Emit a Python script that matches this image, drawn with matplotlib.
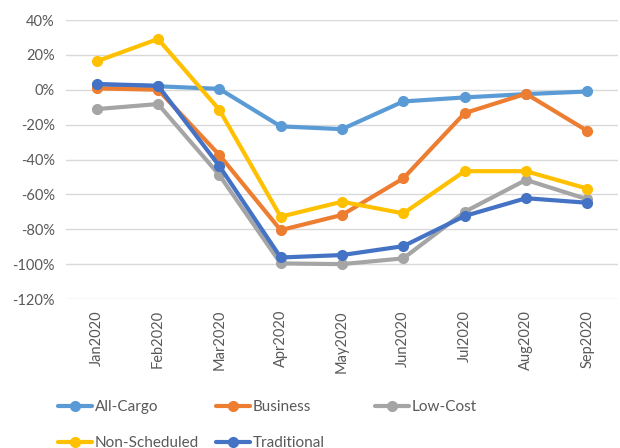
import matplotlib
matplotlib.use("Agg")
import matplotlib.pyplot as plt
from matplotlib.ticker import FuncFormatter

plt.rcParams['font.family'] = ['Lato', 'DejaVu Sans']

# data (percent change)
months = ['Jan2020', 'Feb2020', 'Mar2020', 'Apr2020', 'May2020',
          'Jun2020', 'Jul2020', 'Aug2020', 'Sep2020']
all_cargo = [3.0, 2.0, 0.5, -21.0, -22.6, -6.7, -4.4, -2.5, -1.0]
business = [0.8, 0.0, -37.4, -80.5, -71.8, -50.8, -13.4, -2.3, -23.6]
low_cost = [-11.1, -8.2, -48.9, -99.6, -100.0, -96.7, -70.0, -51.7, -62.8]
non_scheduled = [16.3, 29.1, -11.5, -72.8, -64.2, -70.9, -46.7, -46.7, -56.7]
traditional = [3.3, 2.3, -43.7, -96.2, -94.8, -89.7, -72.4, -62.2, -64.8]

series = [
    ('All-Cargo', all_cargo, '#5B9BD5'),
    ('Business', business, '#ED7D31'),
    ('Low-Cost', low_cost, '#A5A5A5'),
    ('Non-Scheduled', non_scheduled, '#FFC000'),
    ('Traditional', traditional, '#4472C4'),
]

fig = plt.figure(figsize=(6.2, 4.48), dpi=100)
ax = fig.add_axes([66 / 620, 149 / 448, 552 / 620, 279 / 448])

lines = {}
x = list(range(len(months)))
for name, vals, color in series:
    ln, = ax.plot(x, vals, color=color, lw=3, marker='o', markersize=7,
                  solid_capstyle='round', label=name)
    lines[name] = ln

ax.set_xlim(-0.5, len(months) - 0.5)
ax.set_ylim(-120, 40)
ax.set_yticks(range(-120, 41, 20))
ax.yaxis.set_major_formatter(FuncFormatter(lambda v, p: f'{v:.0f}%'))
ax.set_xticks(x)
ax.set_xticklabels(months, rotation=90)
ax.grid(axis='y', color='#D9D9D9', lw=1)
ax.set_axisbelow(True)
for s in ax.spines.values():
    s.set_visible(False)
ax.tick_params(length=0, colors='#595959', labelsize=10.5, pad=8)

# legend: three columns placed like the original
leg_kw = dict(frameon=False, fontsize=11, handlelength=2.2, handletextpad=0.2,
              labelspacing=1.45, borderaxespad=0, borderpad=0, labelcolor='#595959')
cols = [(['All-Cargo', 'Non-Scheduled'], 58), (['Business', 'Traditional'], 216),
        (['Low-Cost'], 375)]
for names, px in cols:
    leg = fig.legend([lines[n] for n in names], names, loc='upper left',
                     bbox_to_anchor=(px / 620, 1 - 400 / 448), **leg_kw)

fig.savefig('out.png', dpi=100)
